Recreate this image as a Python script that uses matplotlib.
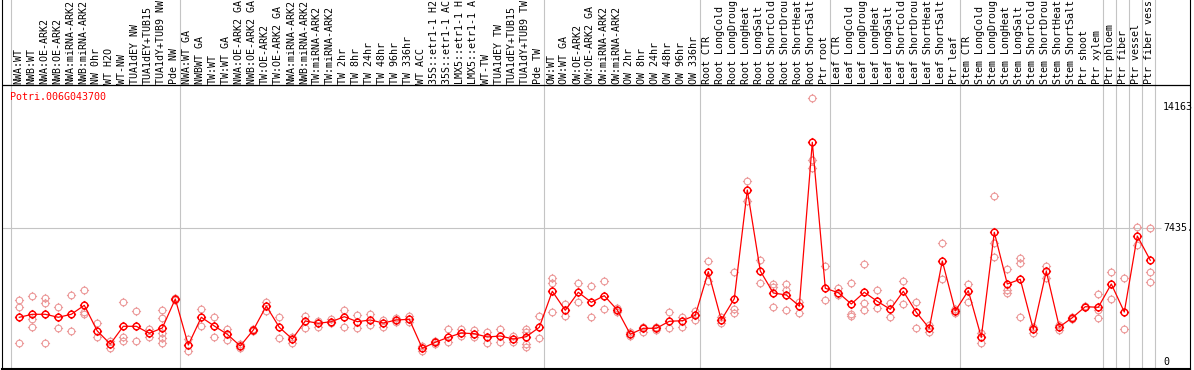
import matplotlib
matplotlib.use("Agg")
import matplotlib.pyplot as plt
from matplotlib.path import Path
import numpy as np

# ---------------- data ----------------
gene_name = "Potri.006G043700"

sample_labels = [
    "NWA:WT", "NWB:WT", "NWA:OE-ARK2", "NWB:OE-ARK2", "NWA:miRNA-ARK2", "NWB:miRNA-ARK2",
    "NW 0hr", "WT H2O", "WT-NW", "TUA1dEY NW", "TUA1dEY+TUB15", "TUA1dY+TUB9 NW", "Pde NW",
    "NWA:WT GA", "NWBWT GA", "TW:WT", "TW:WT GA", "NWA:OE-ARK2 GA", "NWB:OE-ARK2 GA",
    "TW:OE-ARK2", "TW:OE-ARK2 GA", "NWA:miRNA-ARK2", "NWB:miRNA-ARK2", "TW:miRNA-ARK2",
    "TW:miRNA-ARK2", "TW 2hr", "TW 8hr", "TW 24hr", "TW 48hr", "TW 96hr", "TW 336hr",
    "WT ACC", "35S::etr1-1 H2", "35S::etr1-1 AC", "LMX5::etr1-1 H", "LMX5::etr1-1 A",
    "WT-TW", "TUA1dEY TW", "TUA1dEY+TUB15", "TUA1dY+TUB9 TW", "Pde TW",
    "OW:WT", "OW:WT GA", "OW:OE-ARK2", "OW:OE-ARK2 GA", "OW:miRNA-ARK2", "OW:miRNA-ARK2",
    "OW 2hr", "OW 8hr", "OW 24hr", "OW 48hr", "OW 96hr", "OW 336hr",
    "Root CTR", "Root LongCold", "Root LongDroug", "Root LongHeat", "Root LongSalt",
    "Root ShortCold", "Root ShortDrou", "Root ShortHeat", "Root ShortSalt", "Ptr root",
    "Leaf CTR", "Leaf LongCold", "Leaf LongDroug", "Leaf LongHeat", "Leaf LongSalt",
    "Leaf ShortCold", "Leaf ShortDrou", "Leaf ShortHeat", "Leaf ShortSalt", "Ptr leaf",
    "Stem CTR", "Stem LongCold", "Stem LongDroug", "Stem LongHeat", "Stem LongSalt",
    "Stem ShortCold", "Stem ShortDrou", "Stem ShortHeat", "Stem ShortSalt", "Ptr shoot",
    "Ptr xylem", "Ptr phloem", "Ptr fiber", "Ptr vessel", "Ptr fiber vess",
]

mean_values = [
    2470, 2636, 2636, 2470, 2636, 3137, 1708, 984, 1969, 1969, 1580, 1874, 3487,
    929, 2470, 1986, 1524, 873, 1763, 3098, 1913, 1263, 2264, 2136, 2225, 2503,
    2225, 2319, 2152, 2319, 2358, 745, 1079, 1357, 1596, 1557, 1374, 1429, 1263,
    1391, 1913,
    3916, 2859, 3860, 3304, 3671, 2876, 1524, 1858, 1858, 2247, 2280, 2581,
    5006, 2319, 3504, 9550, 5045, 3821, 3710, 3098, 12203, 4083,
    3838, 3209, 3860, 3359, 2914, 3916, 2748, 1858, 5601, 2820,
    3949, 1357, 7197, 4322, 4583, 1802, 5028, 1930, 2447, 3059, 3026,
    4322, 2764, 6991, 5640,
]

replicate_values = [
    [3432, 3026, 1023], [3654, 2358, 1913], [3526, 3248, 1023], [3059, 1858],
    [3710, 1708], [3988, 2781, 2636], [2152, 1357], [1168, 779],
    [3304, 1391, 1168], [2820, 1168], [1802, 1391], [2876, 2414, 1613, 1302, 1023],
    [3450, 3520], [1250, 612], [2931, 2002], [2470, 1357], [1835, 1207],
    [984, 745], [1700, 1820], [3337, 2837], [2470, 1302], [1391, 1057],
    [2558, 1891], [2264, 1913], [2358, 2136], [2876, 1947], [2597, 1858],
    [2636, 2041], [2319, 1913], [2447, 2191], [2558, 2191], [873, 612],
    [1168, 984], [1802, 1079], [1802, 1429], [1763, 1357], [1669, 1023],
    [1819, 1079], [1446, 1112], [1802, 1669, 984, 834], [2558, 1302],
    [4639, 4361, 2748], [3209, 2558], [4361, 3337], [4210, 2470], [4472, 2931],
    [2970, 2781], [1669, 1429], [1947, 1669], [1947, 1763], [2748, 1874],
    [2470, 1913], [2837, 2319],
    [5618, 4505], [2503, 2136], [4972, 2931, 2692], [10051, 8938], [5657, 4361],
    [4305, 4172, 3026], [4322, 3988, 2876], [3337, 2692], [14650, 11219, 10757],
    [5323, 3432],
    [4083, 3710], [4361, 2653, 2542], [5434, 3248, 2876], [3971, 2970],
    [3248, 2503], [4505, 3209], [3304, 1858], [2041, 1669], [6585, 4583],
    [2914, 2692],
    [4322, 3304], [1613, 1023], [9200, 6585, 5807], [5139, 3988, 3838],
    [5751, 5473, 2470], [1947, 1613], [5340, 4639], [2041, 1763], [2503, 2358],
    [3100, 3020], [3749, 2876, 2414],
    [5006, 3471], [4639, 1802], [7475, 6491], [7420, 4972, 4450],
]

group_boundaries = [0, 13, 41, 53, 63, 73, 84, 85, 86, 87, 88]
ytick_values = [0, 7435, 14163]
ytick_labels = ["0", "7435.", "14163"]

# ---------------- layout ----------------
W, H = 1194, 370
DPI = 100
fig = plt.figure(figsize=(W / DPI, H / DPI), dpi=DPI)

col_w = 13.0          # pixels per column
x0_px = 10.9          # left edge of first column
zero_py = 361.7       # pixel row of value 0
units_per_px = 7435 / (zero_py - 228.0)

def val_at(py):
    return (zero_py - py) * units_per_px

def xdat(px):
    return (px - x0_px) / col_w

left_px, right_px, bottom_py = 2, 1190, 369
ax = fig.add_axes([left_px / W, (H - bottom_py) / H, (right_px - left_px) / W, bottom_py / H])
ax.set_xlim(xdat(left_px), xdat(right_px))
ax.set_ylim(val_at(bottom_py), val_at(0))
ax.set_xticks([])
ax.set_yticks([])
for side in ("left", "right"):
    ax.spines[side].set_color("black")
    ax.spines[side].set_linewidth(0.8)
ax.spines["bottom"].set_color("black")
ax.spines["bottom"].set_linewidth(1.5)
ax.spines["top"].set_visible(False)

grey = "#c4c4c4"
for b in group_boundaries:
    ax.axvline(b, color=grey, lw=0.8, zorder=1)

# horizontal reference line at middle tick
ax.hlines(ytick_values[1], xdat(left_px), xdat(1161), color=grey, lw=0.8, zorder=1)

# separator between header labels and plot
ax.axhline(val_at(85), color="black", lw=0.9, zorder=3)

mono = "DejaVu Sans Mono"
fs = 7.2

# sample labels (vertical)
for i, lab in enumerate(sample_labels):
    ax.text(i + 0.55, val_at(83.5), lab, rotation=90, ha="center", va="bottom",
            fontsize=fs, family=mono, color="black", clip_on=False)

# y tick labels on the right
for v, t in zip(ytick_values, ytick_labels):
    ax.text(xdat(1163), v, t, ha="left", va="center", fontsize=fs, family=mono,
            color="black")

# gene name
ax.text(xdat(9.5), val_at(97), gene_name, ha="left", va="center", fontsize=fs,
        family=mono, color="red")

# marker: open circle with four tiny ticks
circ = Path.unit_circle()
ticks = []
for dx, dy in [(0, 1), (0, -1), (1, 0), (-1, 0)]:
    ticks.append(Path([(dx * 1.0, dy * 1.0), (dx * 1.38, dy * 1.38)],
                      [Path.MOVETO, Path.LINETO]))
marker_path = Path.make_compound_path(circ, *ticks)

xpos = np.arange(len(mean_values)) + 0.646

# replicates
rx, ry = [], []
for i, reps in enumerate(replicate_values):
    for r in reps:
        rx.append(xpos[i])
        ry.append(r)
ax.plot(rx, ry, linestyle="none", marker=marker_path, markersize=6.6,
        markerfacecolor="none", markeredgecolor="#ec9a9a", markeredgewidth=0.8,
        zorder=4)

# mean line
ax.plot(xpos, mean_values, color="#ff0000", lw=0.9, marker=marker_path,
        markersize=6.6, markerfacecolor="none", markeredgecolor="#ff0000",
        markeredgewidth=1.05, zorder=5)

fig.savefig("out.png", dpi=DPI)
